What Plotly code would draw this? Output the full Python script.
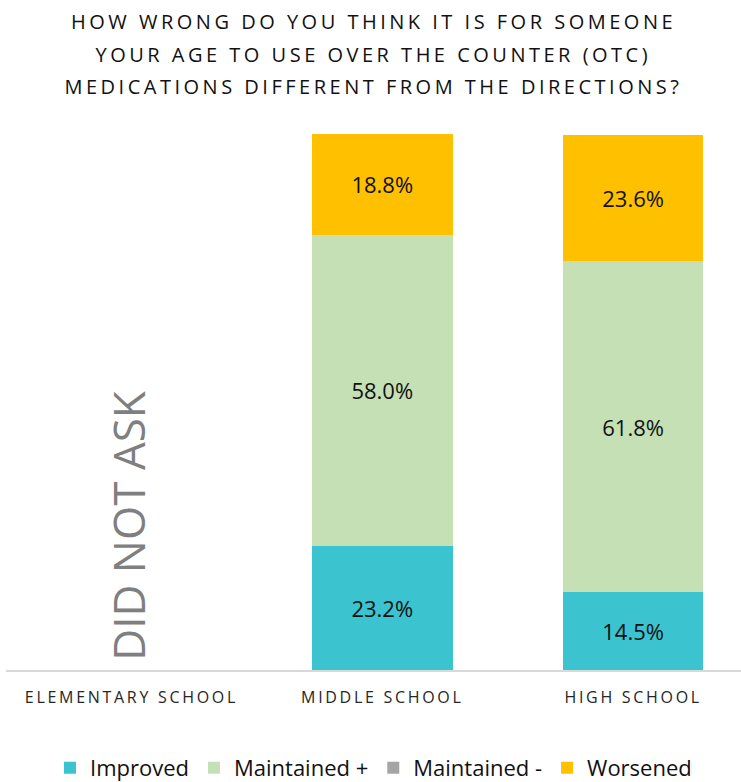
import plotly.graph_objects as go

# Survey categories and the share of students in each change group (%)
schools = ["ELEMENTARY SCHOOL", "MIDDLE SCHOOL", "HIGH SCHOOL"]
improved = [None, 23.2, 14.5]
maintained_plus = [None, 58.0, 61.8]
maintained_minus = [None, None, None]
worsened = [None, 18.8, 23.6]

title_lines = [
    "HOW WRONG DO YOU THINK IT IS FOR SOMEONE",
    "YOUR AGE TO USE OVER THE COUNTER (OTC)",
    "MEDICATIONS DIFFERENT FROM THE DIRECTIONS?",
]

series = [
    ("Improved", improved, "#3BC4D0"),
    ("Maintained +", maintained_plus, "#C5E0B4"),
    ("Maintained -", maintained_minus, "#A5A5A5"),
    ("Worsened", worsened, "#FFC000"),
]

FONT = "Open Sans"

fig = go.Figure()
for name, vals, color in series:
    fig.add_trace(go.Bar(
        x=schools,
        y=vals,
        name=name,
        marker=dict(color=color, line=dict(width=0)),
        text=[None if v is None else f"{v:.1f}%" for v in vals],
        textposition="inside",
        insidetextanchor="middle",
        textfont=dict(family=FONT, size=22, color="#111111"),
        showlegend=True,
    ))

# Elementary school was not surveyed on this question
fig.add_annotation(
    x=0, y=27.0, xref="x", yref="y", xshift=-3,
    text="DID NOT ASK", textangle=-90, showarrow=False,
    font=dict(family=FONT, size=44, color="#7F7F7F"),
)

# Three-line title, each line placed above the plot area
for line, ypos in zip(title_lines, [1.2108, 1.1490, 1.0893]):
    fig.add_annotation(
        x=0.5, y=ypos, xref="paper", yref="paper",
        xanchor="center", yanchor="middle",
        text=line, showarrow=False,
        font=dict(family=FONT, size=20, color="#111111"),
    )

fig.update_layout(
    barmode="stack",
    bargap=0.44,
    width=741, height=782,
    margin=dict(l=6, r=0, t=134, b=112),
    paper_bgcolor="white",
    plot_bgcolor="white",
    xaxis=dict(
        type="category",
        categoryorder="array", categoryarray=schools,
        range=[-0.5, 2.43],
        showline=True, linecolor="#D9D9D9", linewidth=2,
        ticks="", showgrid=False,
        ticklabelstandoff=12,
        tickfont=dict(family=FONT, size=16, color="#262626"),
    ),
    yaxis=dict(
        range=[0, 100], visible=False, showgrid=False,
    ),
    legend=dict(
        orientation="h",
        x=0.5, xanchor="center",
        yref="container", y=0.018, yanchor="middle",
        font=dict(family=FONT, size=22, color="#111111"),
        traceorder="normal",
    ),
)

# Letter tracking for the title lines and category labels
tracking = """
var gd = document.getElementById('{plot_id}');
function track() {
  gd.querySelectorAll('.xtick text').forEach(function (t) {
    t.style.letterSpacing = '2.7px';
  });
  gd.querySelectorAll('.annotation-text').forEach(function (t) {
    if (t.textContent !== 'DID NOT ASK') { t.style.letterSpacing = '3.5px'; }
  });
}
track();
gd.on('plotly_afterplot', track);
"""

fig.write_html("out.html", post_script=tracking)
